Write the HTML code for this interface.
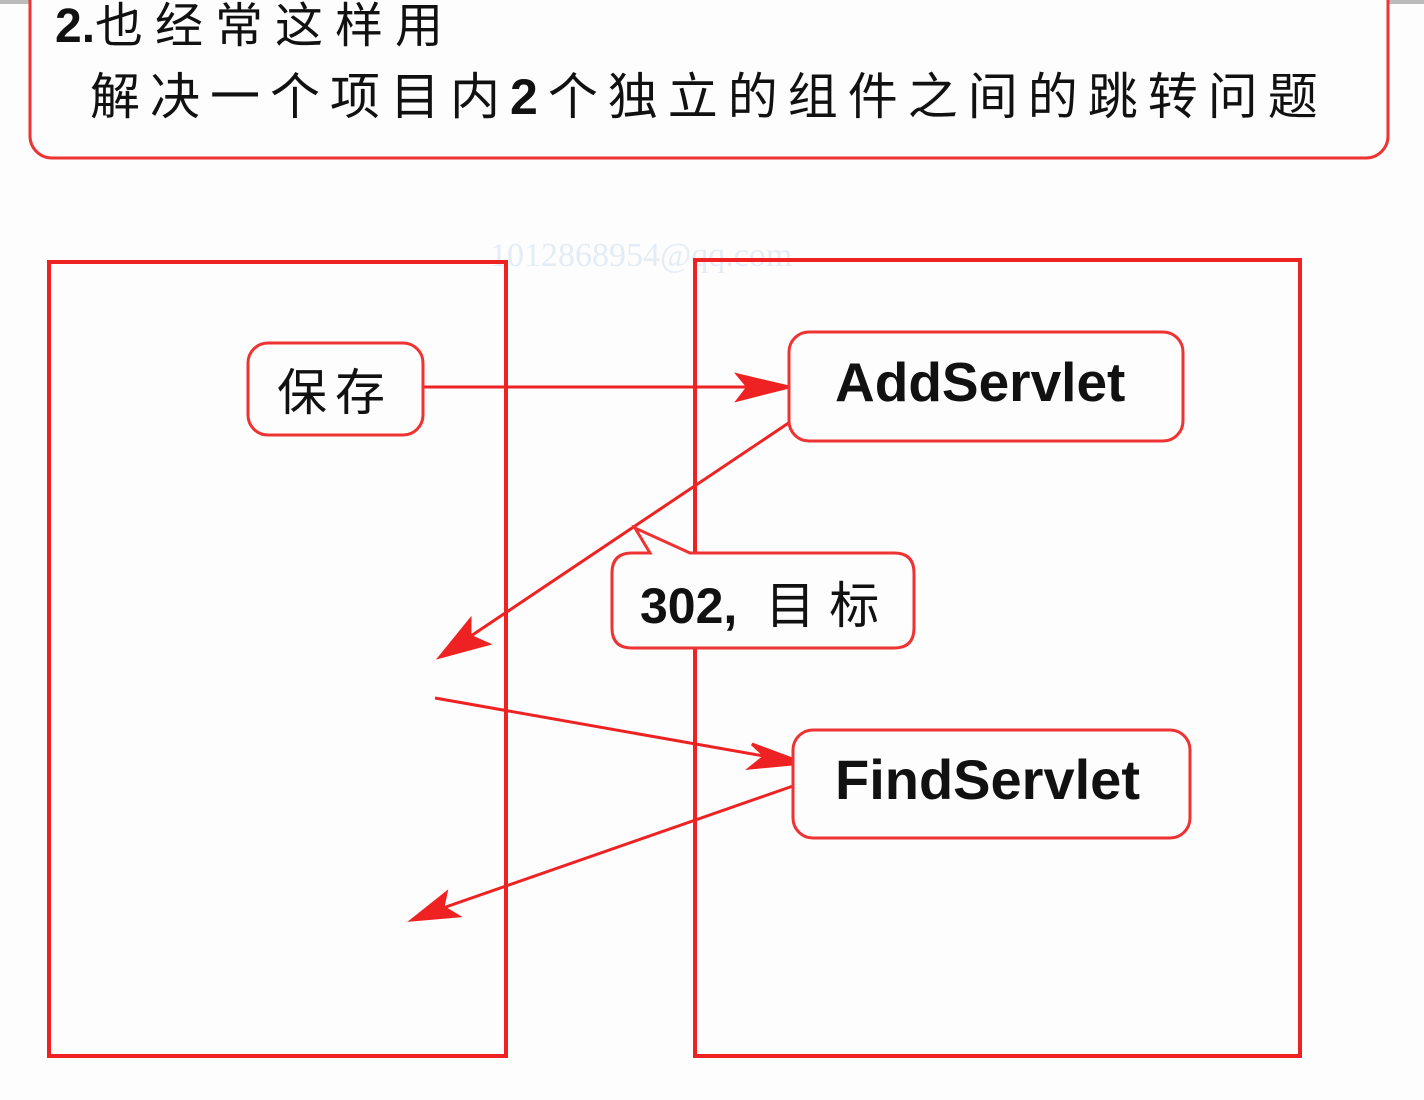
<!DOCTYPE html>
<html><head><meta charset="utf-8"><style>
html,body{margin:0;padding:0;background:#fdfdfd;}
svg{display:block}
</style></head><body>
<svg width="1424" height="1100" viewBox="0 0 1424 1100" xmlns="http://www.w3.org/2000/svg">
<rect x="0" y="0" width="1424" height="4" fill="#bbb"/>
<rect x="30" y="-30" width="1358" height="188" rx="22" fill="#fdfdfd" stroke="#e33" stroke-width="3"/>
<text x="55" y="42" font-family="Liberation Sans, Noto Sans CJK SC, sans-serif" font-size="48" fill="#111"><tspan font-weight="bold">2.</tspan><tspan letter-spacing="12">也经常这样用</tspan></text>
<text x="90" y="114" font-family="Liberation Sans, Noto Sans CJK SC, sans-serif" font-size="50" fill="#111" letter-spacing="10">解决一个项目内<tspan font-weight="bold">2</tspan>个独立的组件之间的跳转问题</text>
<text x="490" y="266" font-family="Liberation Serif, serif" font-size="34" fill="#e4ecf6">1012868954@qq.com</text>
<rect x="49" y="262" width="457" height="794" fill="none" stroke="#e22" stroke-width="4"/>
<rect x="695" y="260" width="605" height="796" fill="none" stroke="#e22" stroke-width="4"/>
<g stroke="#e22" stroke-width="3" fill="#e22">
<line x1="423" y1="387" x2="760" y2="387"/>
<polygon points="789,387 738,375 748,387 738,400"/>
<line x1="793" y1="420" x2="465" y2="640"/>
<polygon points="440,657 470,620 470,636 488,644"/>
<line x1="435" y1="698" x2="775" y2="758"/>
<polygon points="803,763 752,744 765,756 750,768"/>
<line x1="793" y1="786" x2="440" y2="909"/>
<polygon points="412,920 446,893 443,907 458,916"/>
</g>
<g fill="#fdfdfd" stroke="#e33" stroke-width="3">
<rect x="248" y="343" width="175" height="92" rx="20"/>
<rect x="789" y="332" width="394" height="109" rx="20"/>
<rect x="793" y="730" width="397" height="108" rx="20"/>
<path d="M632,553 L650,553 L635,528 L690,553 L894,553 Q914,553 914,573 L914,628 Q914,648 894,648 L632,648 Q612,648 612,628 L612,573 Q612,553 632,553 Z"/>
</g>
<g font-family="Liberation Sans, Noto Sans CJK SC, sans-serif" fill="#111">
<text x="277" y="410" font-size="50" letter-spacing="8">保存</text>
<text x="835" y="401" font-size="55" font-weight="bold">AddServlet</text>
<text x="835" y="799" font-size="56" font-weight="bold">FindServlet</text>
<text x="640" y="623" font-size="50"><tspan font-weight="bold">302,</tspan><tspan letter-spacing="14"> 目标</tspan></text>
</g>
</svg>
</body></html>
